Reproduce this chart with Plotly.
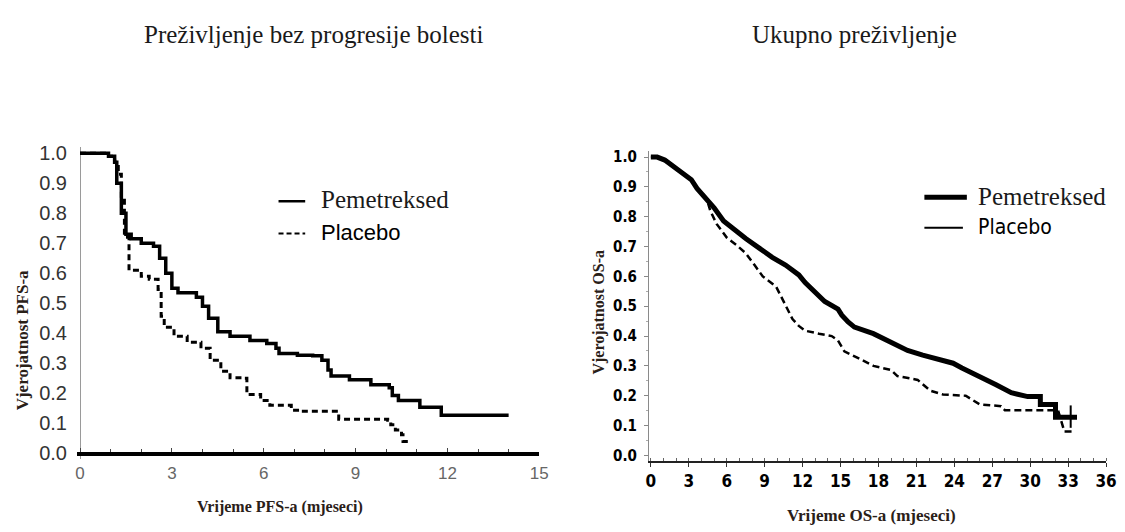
import plotly.graph_objects as go

W, H = 1125, 532

# ---------------- data ----------------
pfs_pem_t = [0, 0.93, 1.13, 1.2, 1.35, 1.5, 1.67, 2.0, 2.4, 2.6, 2.8, 3.0, 3.2, 3.8, 4.0, 4.2, 4.5,
             4.9, 5.55, 6.1, 6.4, 6.5, 7.1, 7.6, 7.9, 8.1, 8.2, 8.8, 9.5, 10.1, 10.2, 10.4, 11.1, 11.8, 14.0]
pfs_pem_s = [1.0, 0.99, 0.97, 0.9, 0.80, 0.73, 0.715, 0.70, 0.69, 0.65, 0.60, 0.55, 0.535, 0.52, 0.49,
             0.45, 0.405, 0.39, 0.376, 0.366, 0.35, 0.333, 0.327, 0.325, 0.31, 0.278, 0.258, 0.245,
             0.229, 0.219, 0.193, 0.176, 0.154, 0.127, 0.127]

pfs_pla_t = [0, 0.93, 1.13, 1.25, 1.35, 1.45, 1.6, 2.0, 2.26, 2.55, 2.65, 2.75, 3.07, 3.5, 3.95, 4.25,
             4.6, 4.9, 5.3, 5.45, 5.9, 6.2, 6.9, 7.2, 8.35, 8.45, 10.05, 10.15, 10.3, 10.5, 10.55, 10.8]
pfs_pla_s = [1.0, 0.99, 0.97, 0.93, 0.85, 0.72, 0.61, 0.59, 0.58, 0.546, 0.457, 0.42, 0.39, 0.37, 0.35,
             0.31, 0.274, 0.252, 0.25, 0.196, 0.176, 0.16, 0.144, 0.14, 0.14, 0.114, 0.11, 0.095,
             0.078, 0.062, 0.04, 0.04]

os_pem_t = [0, 0.5, 1.1, 1.87, 2.6, 3.2, 3.65, 4.4, 5.0, 5.75, 6.5, 7.5, 8.6, 9.6, 10.65, 11.7, 12.2,
            13.0, 13.75, 14.8, 15.1, 15.6, 16.1, 17.6, 19.2, 20.3, 21.5, 22.8, 23.9, 24.6, 26.0, 27.3,
            28.5, 29.8, 30.8, 30.8, 31.2, 32.0, 32.0, 33.7]
os_pem_s = [1.0, 1.0, 0.99, 0.967, 0.944, 0.924, 0.895, 0.862, 0.83, 0.786, 0.76, 0.727, 0.694, 0.664,
            0.638, 0.605, 0.579, 0.546, 0.516, 0.49, 0.47, 0.447, 0.43, 0.408, 0.375, 0.352, 0.336,
            0.32, 0.309, 0.293, 0.266, 0.237, 0.21, 0.197, 0.197, 0.171, 0.171, 0.171, 0.128, 0.128]

os_pla_t = [0, 0.5, 1.1, 1.87, 2.6, 3.2, 3.65, 4.4, 4.7, 5.2, 6.0, 6.8, 7.5, 8.2, 8.85, 9.9, 10.65, 11.2,
            11.7, 12.2, 13.3, 14.3, 14.8, 15.3, 16.4, 17.6, 19.0, 19.5, 21.1, 22.1, 23.1, 24.9, 26.0,
            27.7, 28.0, 32.2, 32.7, 33.3]
os_pla_s = [1.0, 1.0, 0.99, 0.967, 0.944, 0.924, 0.895, 0.862, 0.82, 0.776, 0.73, 0.704, 0.678, 0.638,
            0.6, 0.566, 0.5, 0.457, 0.434, 0.418, 0.408, 0.40, 0.385, 0.349, 0.326, 0.3, 0.286, 0.266,
            0.253, 0.217, 0.204, 0.2, 0.171, 0.165, 0.151, 0.151, 0.08, 0.08]

os_cens_t = [33.2]
os_cens_s = [0.13]

series_names = ["Pemetreksed", "Placebo"]
pfs_xticks = [0, 3, 6, 9, 12, 15]
os_xticks = [0, 3, 6, 9, 12, 15, 18, 21, 24, 27, 30, 33, 36]

SERIF = "Liberation Serif, Times New Roman, serif"
SANS = "Liberation Sans, Arial, sans-serif"
NARROW = "Liberation Sans Narrow, Arial Narrow, DejaVu Sans Condensed, Liberation Sans, sans-serif"
TITLE_COL = "#2a2018"


def px(x):
    return x / W


def py(y):
    return 1 - y / H


fig = go.Figure()

fig.add_trace(go.Scatter(x=pfs_pem_t, y=pfs_pem_s, mode="lines", line=dict(color="black", width=3.5, shape="hv"),
                         xaxis="x", yaxis="y", showlegend=False, name=series_names[0]))
fig.add_trace(go.Scatter(x=pfs_pla_t, y=pfs_pla_s, mode="lines",
                         line=dict(color="black", width=3, shape="hv", dash="6px,4px"),
                         xaxis="x", yaxis="y", showlegend=False, name=series_names[1]))
fig.add_trace(go.Scatter(x=os_pem_t, y=os_pem_s, mode="lines", line=dict(color="black", width=5),
                         xaxis="x2", yaxis="y2", showlegend=False, name=series_names[0]))
fig.add_trace(go.Scatter(x=os_pla_t, y=os_pla_s, mode="lines",
                         line=dict(color="black", width=2.5, dash="7px,4px"),
                         xaxis="x2", yaxis="y2", showlegend=False, name=series_names[1]))
fig.add_trace(go.Scatter(x=os_cens_t, y=os_cens_s, mode="markers",
                         marker=dict(symbol="line-ns-open", size=16, color="black", line=dict(color="black", width=2)),
                         xaxis="x2", yaxis="y2", showlegend=False, cliponaxis=False))

fig.update_layout(
    width=W, height=H,
    margin=dict(l=0, r=0, t=0, b=0),
    paper_bgcolor="white", plot_bgcolor="white",
    xaxis=dict(domain=[px(74.9), px(543)], range=[-0.1, 15], anchor="free", position=py(457),
               showline=True, linecolor="black", linewidth=3.5, showgrid=False,
               zeroline=True, zerolinecolor="#9a9a9a", zerolinewidth=1,
               tickvals=pfs_xticks, ticks="inside", ticklen=4, tickcolor="#444", tickwidth=1,
               minor=dict(dtick=1, ticks="inside", ticklen=3, tickcolor="#444"),
               tickfont=dict(family=SANS, size=17, color="#666"), ticklabelstandoff=3),
    yaxis=dict(domain=[py(463.1), py(144.9)], range=[-0.02, 1.02], anchor="x",
               showline=False, showgrid=False, zeroline=False, dtick=0.1, tick0=0, tickformat=".1f",
               tickfont=dict(family=SANS, size=20, color="#333"), ticks="", ticklabelstandoff=9),
    xaxis2=dict(domain=[px(654.1), px(1117)], range=[-0.15, 36], anchor="y2",
                showline=True, linecolor="#222", linewidth=1.5, showgrid=False, zeroline=False,
                tickvals=os_xticks, ticks="outside", ticklen=4, tickcolor="#333",
                minor=dict(dtick=1, ticks="inside", ticklen=3, tickcolor="#666"),
                tickfont=dict(family=NARROW, size=17, color="black", weight="bold"), ticklabelstandoff=0),
    yaxis2=dict(domain=[py(465.1), py(148.9)], range=[-0.02, 1.02], anchor="x2",
                showline=True, linecolor="#8a8a8a", linewidth=1, showgrid=False, zeroline=False,
                dtick=0.1, tick0=0, tickformat=".1f", ticks="outside", ticklen=4, tickcolor="#888",
                minor=dict(dtick=0.05, ticks="outside", ticklen=2, tickcolor="#aaa"),
                tickfont=dict(family=NARROW, size=15, color="black", weight="bold"), ticklabelstandoff=4),
)

annotations = [
    dict(text="Preživljenje bez progresije bolesti", x=px(315), y=py(30), font=dict(family=SERIF, size=25, color="#1a1a1a")),
    dict(text="Ukupno preživljenje", x=px(862), y=py(30), font=dict(family=SERIF, size=25, color="#1a1a1a")),
    dict(text="<b>Vrijeme PFS-a (mjeseci)</b>", x=px(280), y=py(512), font=dict(family=SERIF, size=16, color=TITLE_COL)),
    dict(text="<b>Vrijeme OS-a (mjeseci)</b>", x=px(879), y=py(520), font=dict(family=SERIF, size=17, color=TITLE_COL)),
    dict(text="<b>Vjerojatnost PFS-a</b>", x=px(20), y=py(342), textangle=-90, font=dict(family=SERIF, size=17, color=TITLE_COL)),
    dict(text="<b>Vjerojatnost OS-a</b>", x=px(604), y=py(313), textangle=-90, font=dict(family=SERIF, size=16, color=TITLE_COL)),
    dict(text=series_names[0], x=px(320), y=py(198), xanchor="left", font=dict(family=SERIF, size=25, color="#1a1a1a")),
    dict(text=series_names[1], x=px(320), y=py(232), xanchor="left", font=dict(family=SANS, size=22, color="black")),
    dict(text=series_names[0], x=px(985), y=py(195), xanchor="left", font=dict(family=SERIF, size=25, color="#1a1a1a")),
    dict(text=series_names[1], x=px(985), y=py(226), xanchor="left", font=dict(family=NARROW, size=21, color="black")),
]
for a in annotations:
    a.setdefault("xanchor", "center")
    a.update(xref="paper", yref="paper", yanchor="middle", showarrow=False)
fig.update_layout(annotations=annotations)

shapes = [
    dict(x0=px(279), x1=px(306), y0=py(200), y1=py(200), line=dict(color="black", width=2.5)),
    dict(x0=px(279), x1=px(306), y0=py(233), y1=py(233), line=dict(color="black", width=2, dash="5px,3px")),
    dict(x0=px(933), x1=px(976), y0=py(196), y1=py(196), line=dict(color="black", width=5)),
    dict(x0=px(933), x1=px(972), y0=py(227), y1=py(227), line=dict(color="black", width=2)),
]
for s in shapes:
    s.update(type="line", xref="paper", yref="paper")
fig.update_layout(shapes=shapes)

fig.write_html(
    "out.html",
    config={"displayModeBar": False, "staticPlot": True},
    post_script=("document.body.style.margin='0';document.body.style.padding='0';"
                 "document.body.style.overflow='hidden';document.documentElement.style.overflow='hidden';"),
)
